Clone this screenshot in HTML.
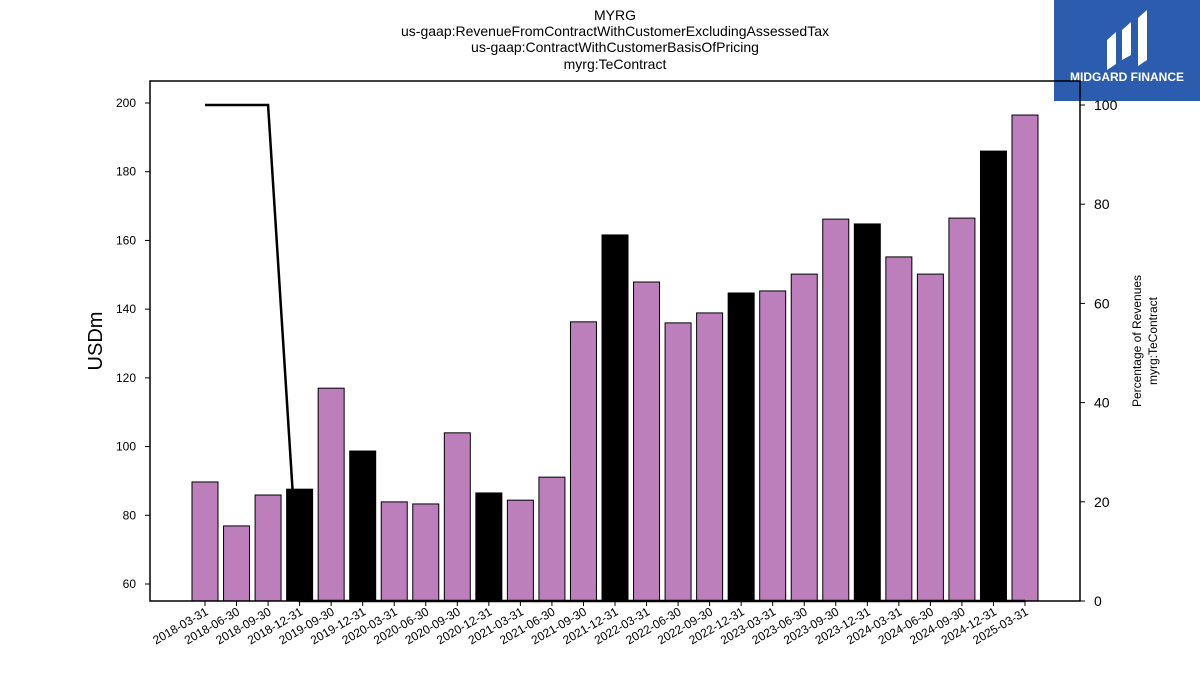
<!DOCTYPE html>
<html><head><meta charset="utf-8"><style>
body{margin:0;background:#fff;font-family:"Liberation Sans",sans-serif}
</style></head><body>
<svg width="1200" height="675" xmlns="http://www.w3.org/2000/svg" font-family="Liberation Sans, sans-serif">
<g id="title" text-anchor="middle" font-size="14" fill="#000">
<text x="615" y="20">MYRG</text>
<text x="615" y="36">us-gaap:RevenueFromContractWithCustomerExcludingAssessedTax</text>
<text x="615" y="52">us-gaap:ContractWithCustomerBasisOfPricing</text>
<text x="615" y="69">myrg:TeContract</text>
</g>
<g>
<rect x="1054" y="0" width="146" height="101" fill="#2b5cad"/>
<path d="M1107 70 L1107 40 L1116 32 L1116 64 Z M1122 60 L1122 30 L1131 22 L1131 55 Z M1138 66 L1138 18 L1147 10 L1147 60 Z" fill="#fff"/>
<text x="1127" y="81" text-anchor="middle" font-size="12" font-weight="bold" fill="#fff">MIDGARD FINANCE</text>
</g>
<g id="bars"></g>
<g id="line"></g>
<rect x="150" y="81" width="930" height="520" fill="none" stroke="#000" stroke-width="1.5"/>
<g id="yticks" font-size="12"></g>
<g id="y2ticks" font-size="14"></g>
<g id="xticks" font-size="12"></g>
<text x="102" y="341" transform="rotate(-90 102 341)" text-anchor="middle" font-size="20">USDm</text>
<text x="1141" y="341" transform="rotate(-90 1141 341)" text-anchor="middle" font-size="12">Percentage of Revenues</text>
<text x="1157" y="341" transform="rotate(-90 1157 341)" text-anchor="middle" font-size="12">myrg:TeContract</text>
</svg>
<script>
const categories=["2018-03-31","2018-06-30","2018-09-30","2018-12-31","2019-09-30","2019-12-31","2020-03-31","2020-06-30","2020-09-30","2020-12-31","2021-03-31","2021-06-30","2021-09-30","2021-12-31","2022-03-31","2022-06-30","2022-09-30","2022-12-31","2023-03-31","2023-06-30","2023-09-30","2023-12-31","2024-03-31","2024-06-30","2024-09-30","2024-12-31","2025-03-31"];
const revenues=[89.7,76.9,85.9,87.6,117.0,98.7,83.9,83.3,104.0,86.5,84.4,91.1,136.3,161.6,147.9,136.0,138.9,144.7,145.3,150.2,166.2,164.8,155.2,150.2,166.5,186.0,196.5];
const highlighted=[0,0,0,1,0,1,0,0,0,1,0,0,0,1,0,0,0,1,0,0,0,1,0,0,0,1,0];
const percentages=[100,100,100,0,0,0,0,0,0,0,0,0,0,0,0,0,0,0,0,0,0,0,0,0,0,0,0];
const yTicks=[60,80,100,120,140,160,180,200];
const y2Ticks=[0,20,40,60,80,100];
const NS="http://www.w3.org/2000/svg";
const y=v=>584-(v-60)*(481/140);
const y2=v=>601-v*4.96;
const x=i=>205+i*(820/(categories.length-1));
const bw=26;
function mk(t,a,p){const e=document.createElementNS(NS,t);for(const k in a)e.setAttribute(k,a[k]);p.appendChild(e);return e;}
const gb=document.getElementById('bars');
revenues.forEach((v,i)=>{const r=mk('rect',{x:x(i)-bw/2,y:y(v),width:bw,height:601-y(v),fill:highlighted[i]?'#000':'#bc7fbc',stroke:'#000','stroke-width':1},gb);

});
const gl=document.getElementById('line');
const pl=mk('polyline',{points:percentages.map((v,i)=>x(i)+','+y2(v)).join(' '),fill:'none',stroke:'#000','stroke-width':2.5},gl);


const gy=document.getElementById('yticks');
yTicks.forEach(v=>{mk('line',{x1:145,x2:150,y1:y(v),y2:y(v),stroke:'#000'},gy);const t=mk('text',{x:136,y:y(v)+4,'text-anchor':'end'},gy);t.textContent=v;

});
const gy2=document.getElementById('y2ticks');
y2Ticks.forEach(v=>{mk('line',{x1:1080,x2:1085,y1:y2(v),y2:y2(v),stroke:'#000'},gy2);const t=mk('text',{x:1094,y:y2(v)+5},gy2);t.textContent=v;

});
const gx=document.getElementById('xticks');
categories.forEach((c,i)=>{mk('line',{x1:x(i),x2:x(i),y1:601,y2:606,stroke:'#000'},gx);const t=mk('text',{x:x(i)+4,y:614,'text-anchor':'end',transform:`rotate(-30 ${x(i)+4} 614)`},gx);t.textContent=c;

});
</script>
</body></html>
